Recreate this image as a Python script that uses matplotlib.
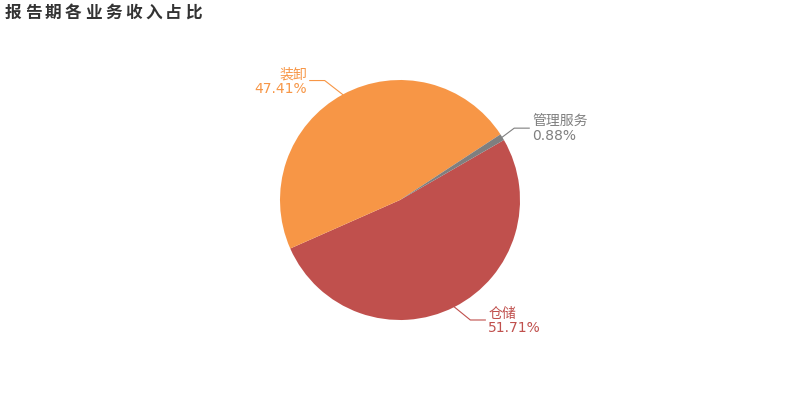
import numpy as np
import matplotlib.pyplot as plt

plt.rcParams['font.family'] = ['DejaVu Sans', 'Noto Sans CJK SC']

# data
names = ['仓储', '装卸', '管理服务']
shares = [51.71, 47.41, 0.88]
colors = ['#c0504d', '#f79646', '#7f7f7f']
title = '报告期各业务收入占比'

W, H = 800, 400
fig = plt.figure(figsize=(8, 4), dpi=100)
ax = fig.add_axes([0, 0, 1, 1])

cx, cy, R = 400, 200, 120
wedges, _ = ax.pie(shares, colors=colors, startangle=30, counterclock=False,
                   center=(cx, cy), radius=R, frame=True,
                   wedgeprops=dict(linewidth=0))
ax.set_xlim(0, W)
ax.set_ylim(0, H)
ax.set_aspect('equal')
ax.axis('off')

# first leader segment (pixels, y up) for each slice
bends = [(16, -13), (-18, 14), (12, 9)]

for w, name, val, col, (bx, by) in zip(wedges, names, shares, colors, bends):
    mid = np.deg2rad((w.theta1 + w.theta2) / 2)
    x0, y0 = cx + R * np.cos(mid), cy + R * np.sin(mid)
    x1, y1 = x0 + bx, y0 + by
    side = 1 if bx > 0 else -1
    x2 = x1 + side * 15
    ax.plot([x0, x1, x2], [y0, y1, y1], color=col, lw=0.8)
    ax.text(x2 + side * 3, y1 - 1, f'{name}\n{val:.2f}%', color=col, fontsize=10,
            ha='left' if side > 0 else 'right', va='center', linespacing=1.0)

# title, spaced out character by character
for i, ch in enumerate(title):
    fig.text((5 + i * 20) / W, 1 - 13 / H, ch, fontsize=12, fontweight='bold',
             color='#333333', ha='left', va='center')

fig.savefig('out.png', dpi=100)
